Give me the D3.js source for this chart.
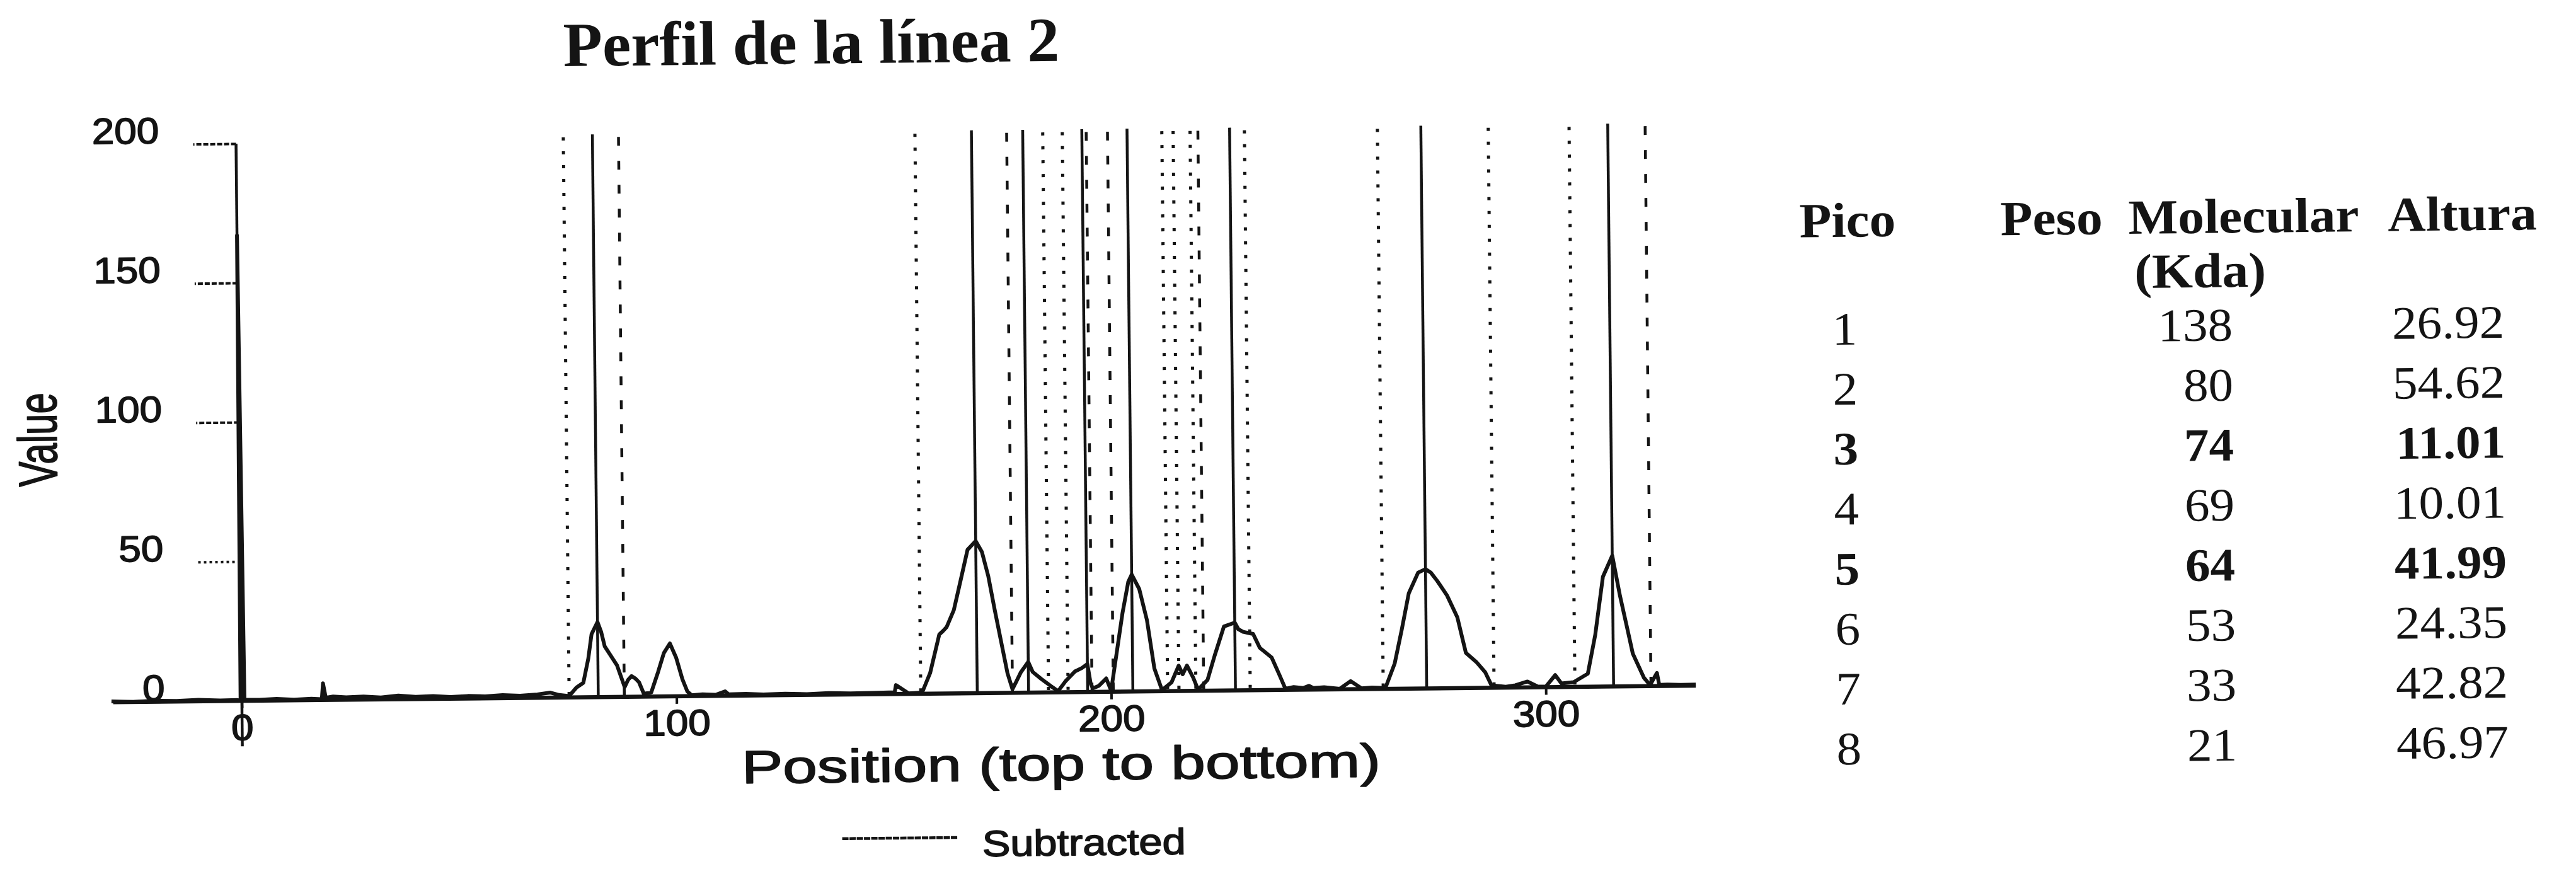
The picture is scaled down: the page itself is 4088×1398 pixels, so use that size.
<!DOCTYPE html>
<html>
<head>
<meta charset="utf-8">
<script src="https://cdn.jsdelivr.net/npm/d3@7"></script>
<style>
  html, body { margin: 0; padding: 0; background: #ffffff; }
  svg { display: block; }
</style>
</head>
<body>
<svg id="chart" width="4088" height="1398"></svg>
<script>
// Densitometric profile of lane 2: [position, value] along the lane.
const profile = [
  [-30, 0.3], [-25, 0], [-20, 0.4], [-15, 0.2], [-10, 0.5], [-5, 0.2], [-1, 0.3],
  [-0.3, 0], [0, 167], [0.6, 0.4], [4, 0.3], [8, 0.6], [12, 0.2], [16, 0.5],
  [18.4, 0.3], [18.7, 6], [19.3, 0.8], [21, 1.2], [24, 0.9], [28, 1.1], [32, 0.7],
  [36, 1.3], [40, 0.8], [44, 1], [48, 0.6], [52, 0.9], [56, 0.7], [60, 1.1],
  [64, 0.8], [68, 1.2], [71, 1.8], [73, 0.9], [75.3, 0.5], [77, 3.5], [78.6, 5.2],
  [79.8, 13.9], [80.6, 22.6], [82.8, 23.5], [83.6, 18.2], [86.4, 11.3], [88.1, 3.5],
  [88.9, 6.1], [89.7, 7.4], [90.6, 6.5], [91.4, 5.2], [92.5, 1], [94.2, 1.5],
  [95.8, 8.7], [97.2, 15.6], [98.6, 19], [100, 13.9], [101.4, 6.1], [102.5, 1.7],
  [103.5, 0.3], [106, 0.6], [109, 0.4], [111.2, 1.6], [112, 0.5], [116, 0.6],
  [120, 0.3], [125, 0.5], [130, 0.3], [135, 0.6], [140, 0.4], [145, 0.5],
  [150.2, 0.6], [150.5, 3.2], [153.4, 0.2], [156.5, 0.4], [158.4, 7.4], [160.6, 21.2],
  [161.5, 22.5], [162.3, 23.8], [164, 29.9], [165.6, 40.3], [167.3, 51.5],
  [170.6, 50.7], [172, 42], [173.4, 29.9], [175.1, 16], [176.2, 7], [177.3, 1.3],
  [178.2, 4], [179.3, 7.4], [182, 7.4], [184, 4.8], [186.2, 2.2], [187.8, 0.4],
  [189.5, 3.9], [191.7, 7.4], [193.3, 8.6], [195.3, 3], [195.8, 1.3], [197.2, 2.2],
  [198.9, 4.8], [200, 0.4], [201.4, 14.3], [202.8, 28.2], [204.2, 39.4],
  [206.7, 36.8], [208.4, 25.6], [210, 8.2], [211.7, 0.4], [213.9, 3.1], [215.6, 9.1],
  [216.5, 6], [217.5, 9.1], [218.9, 4.8], [220, 0.4], [222.2, 3.9], [223.9, 12.6],
  [226.1, 23], [229.4, 22], [230.5, 21], [232.8, 20.2], [234.3, 15.2], [237, 11.7],
  [238.7, 5.6], [240.1, 0.4], [242, 1], [244.2, 0.6], [245.5, 1.4], [246.5, 0.6],
  [249, 0.8], [252.6, 0.2], [255.1, 2.9], [257.6, 0.3], [260, 0.5], [263.1, 0.3],
  [265.3, 9.1], [267, 21.2], [268.7, 34.2], [270.9, 41.6], [273.8, 41.6],
  [275.3, 38.5], [277.5, 33.3], [279.8, 25.5], [281.7, 12.6], [284.2, 9.1],
  [286.1, 5.6], [287.5, 0.9], [290.8, 0.3], [293, 0.8], [295.8, 2.1], [298.1, 0.3],
  [300, 0.2], [302.2, 4.3], [303.6, 1.3], [306.4, 1.7], [309.7, 4.7], [311.5, 18.6],
  [313.4, 39.4], [317.3, 32.4], [318.7, 22.1], [320.1, 11.7], [322.6, 3.0],
  [324, 0.4], [325.6, 4.7], [326.1, 0.4], [328, 0.5], [331, 0.3], [334.5, 0.4]
];

// Detected peaks (table rows) and their positions along the lane.
const peakIds = [1, 2, 3, 4, 5, 6, 7, 8];
const peakPositions = [82.0, 169.2, 181.0, 194.6, 205.0, 228.6, 272.6, 315.6];
const molecularWeights = [138, 80, 74, 69, 64, 53, 33, 21];
const peakHeights = [26.92, 54.62, 11.01, 10.01, 41.99, 24.35, 42.82, 46.97];
const boldPeaks = [3, 5];

// Band limits found by the peak search.
const bandStarts = [75.3, 156.2, 185.6, 190.1, 213.0, 215.6, 219.5, 232.0, 262.6, 288.1, 306.7];
const bandEnds = [88.0, 177.3, 195.6, 200.5, 221.3, 324.2];

const xTicks = [0, 100, 200, 300];
const yTicks = [0, 50, 100, 150, 200];
const xExtent = [-29.6, 334.5];

const svg = d3.select("#chart");
// the printed panel sits slightly tilted on the page
const page = svg.append("g").attr("transform", "rotate(-0.6 2044 699)");

const x = d3.scaleLinear().domain([0, 300]).range([379.6, 2449]);
const y = d3.scaleLinear().domain([0, 200]).range([1094.7, 210.5]);

const ink = "#141414";
const sans = "'Liberation Sans', Arial, sans-serif";
const serif = "'Liberation Serif', 'Times New Roman', serif";

// widen text horizontally by a factor
function stretch(sel, f, mode) {
  sel.each(function () {
    const w = this.getComputedTextLength();
    d3.select(this).attr("textLength", w * f).attr("lengthAdjust", mode || "spacingAndGlyphs");
  });
}
// printed sans labels are slightly heavy
function heavy(sel, w) {
  sel.attr("stroke", ink).attr("stroke-width", w || 1.6).attr("stroke-linejoin", "round");
}

// ---- title ----
page.append("text")
  .attr("x", 1294).attr("y", 93)
  .attr("text-anchor", "middle")
  .attr("font-family", serif).attr("font-weight", "bold").attr("font-size", 100)
  .attr("fill", ink)
  .text("Perfil de la línea 2")
  .call(stretch, 1.02);

// ---- band limit lines ----
const lineTop = 201;
page.append("g").selectAll("line").data(bandStarts).join("line")
  .attr("x1", d => x(d)).attr("x2", d => x(d))
  .attr("y1", y(lineTop)).attr("y2", y(0))
  .attr("stroke", ink).attr("stroke-width", 5)
  .attr("stroke-dasharray", "5,17");

page.append("g").selectAll("line").data(bandEnds).join("line")
  .attr("x1", d => x(d)).attr("x2", d => x(d))
  .attr("y1", y(lineTop)).attr("y2", y(0))
  .attr("stroke", ink).attr("stroke-width", 4.5)
  .attr("stroke-dasharray", "14,24");

// ---- peak marker lines ----
page.append("g").selectAll("line").data(peakPositions).join("line")
  .attr("x1", d => x(d)).attr("x2", d => x(d))
  .attr("y1", y(lineTop + 1)).attr("y2", y(0))
  .attr("stroke", ink).attr("stroke-width", 4.5);

// ---- profile trace (peak apexes taken from the table heights) ----
const trace = profile
  .concat(peakPositions.map((p, i) => [p, peakHeights[i]]))
  .sort((a, b) => a[0] - b[0]);

page.append("path")
  .datum(trace)
  .attr("fill", "none")
  .attr("stroke", ink).attr("stroke-width", 6)
  .attr("stroke-linejoin", "round")
  .attr("d", d3.line().x(d => x(d[0])).y(d => y(d[1])));

// ---- axes ----
page.append("line")
  .attr("x1", x(xExtent[0])).attr("x2", x(xExtent[1]))
  .attr("y1", y(0)).attr("y2", y(0))
  .attr("stroke", ink).attr("stroke-width", 6.5);

page.append("line")
  .attr("x1", x(0)).attr("x2", x(0))
  .attr("y1", y(200)).attr("y2", y(-16.3))
  .attr("stroke", ink).attr("stroke-width", 4.5);

const yAxis = page.append("g")
  .attr("transform", `translate(${x(0)},0)`)
  .call(d3.axisLeft(y).tickValues(yTicks).tickSize(68).tickPadding(54));
yAxis.select(".domain").remove();
yAxis.selectAll(".tick line")
  .attr("stroke", ink).attr("stroke-width", 4)
  .attr("stroke-dasharray", d => d === 50 ? "4,5" : "8,3");
yAxis.selectAll(".tick line").filter(d => d === 0).remove();
yAxis.selectAll(".tick text")
  .attr("dy", "-0.04em")
  .attr("font-family", sans).attr("font-size", 58).attr("fill", ink)
  .call(heavy)
  .call(stretch, 1.1);

const xAxis = page.append("g")
  .attr("transform", `translate(0,${y(0)})`)
  .call(d3.axisBottom(x).tickValues(xTicks).tickSize(12).tickPadding(9));
xAxis.select(".domain").remove();
xAxis.selectAll(".tick line").attr("stroke", ink).attr("stroke-width", 4);
xAxis.selectAll(".tick text")
  .attr("font-family", sans).attr("font-size", 58).attr("fill", ink)
  .call(heavy)
  .call(stretch, 1.1);

page.append("text")
  .attr("x", 1171.5).attr("y", 1234)
  .attr("font-family", sans).attr("font-size", 74).attr("fill", ink)
  .text("Position (top to bottom)")
  .call(heavy)
  .attr("textLength", 1014).attr("lengthAdjust", "spacingAndGlyphs");

page.append("text")
  .attr("transform", "translate(90,677) scale(1.45,1) rotate(-90)")
  .attr("text-anchor", "middle")
  .attr("font-family", sans).attr("font-size", 60).attr("fill", ink)
  .call(heavy, 1.2)
  .text("Value");

// ---- legend ----
page.append("line")
  .attr("x1", 1330).attr("x2", 1514).attr("y1", 1323.4).attr("y2", 1323.4)
  .attr("stroke", ink).attr("stroke-width", 4.5).attr("stroke-dasharray", "10,1.5");
page.append("text")
  .attr("x", 1552).attr("y", 1353.6)
  .attr("font-family", sans).attr("font-size", 58).attr("fill", ink)
  .text("Subtracted")
  .call(heavy)
  .attr("textLength", 323).attr("lengthAdjust", "spacingAndGlyphs");

// ---- peak table ----
const table = page.append("g").attr("fill", ink).attr("font-family", serif);
const header = [
  ["Pico", 2859, 385], ["Peso", 3178, 385], ["Molecular", 3381, 385],
  ["Altura", 3793, 385], ["(Kda)", 3390, 471]
];
table.selectAll("text.head").data(header).join("text")
  .attr("class", "head")
  .attr("x", d => d[1]).attr("y", d => d[2])
  .attr("font-weight", "bold").attr("font-size", 78)
  .text(d => d[0])
  .call(stretch, 1.07);

const rowY = i => 556 + i * 95.2;
const rows = table.selectAll("g.row").data(peakIds).join("g")
  .attr("class", "row")
  .attr("font-size", 74)
  .attr("font-weight", d => boldPeaks.includes(d) ? "bold" : "normal");

rows.append("text")
  .attr("x", 2929).attr("y", (d, i) => rowY(i))
  .attr("text-anchor", "middle")
  .text(d => d);
rows.append("text")
  .attr("x", 3545).attr("y", (d, i) => rowY(i))
  .attr("text-anchor", "end")
  .text((d, i) => molecularWeights[i]);
rows.append("text")
  .attr("x", 3976).attr("y", (d, i) => rowY(i))
  .attr("text-anchor", "end")
  .text((d, i) => peakHeights[i].toFixed(2));
rows.selectAll("text").call(stretch, 1.07);
</script>
</body>
</html>
